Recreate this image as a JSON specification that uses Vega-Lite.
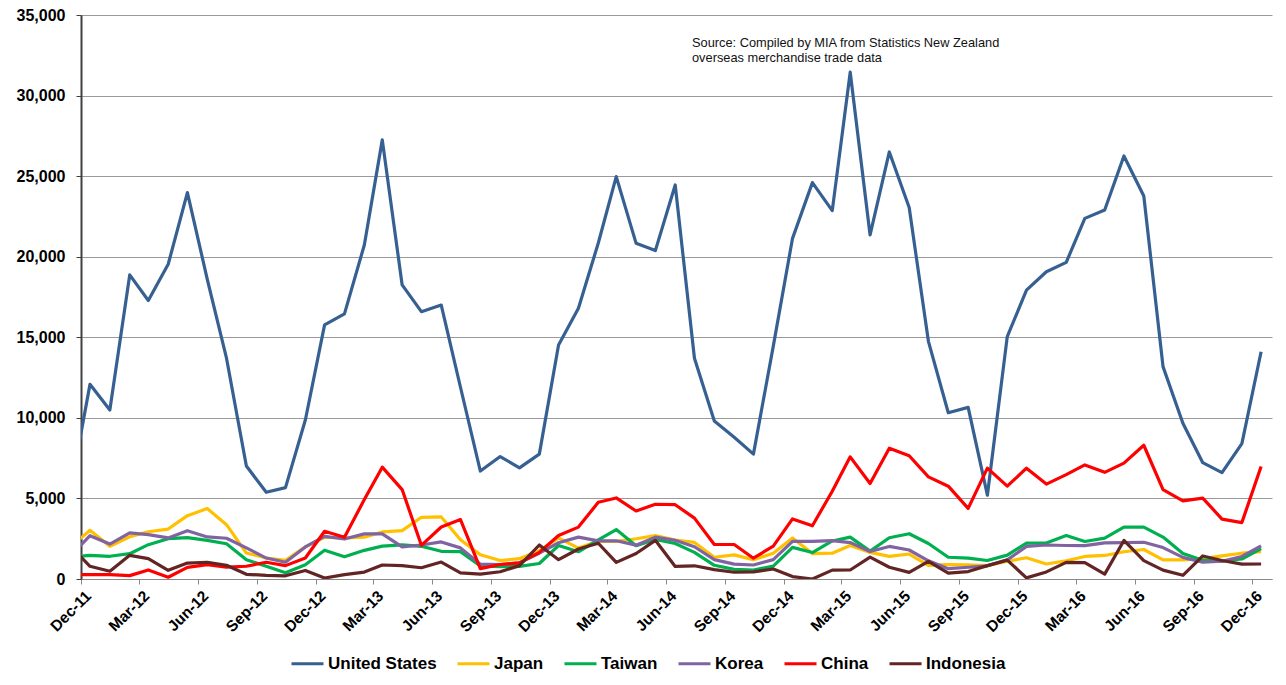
{
"$schema": "https://vega.github.io/schema/vega-lite/v6.json",
"width": 1191, "height": 564,
"autosize": {"type": "none"},
"padding": {"left": 81, "top": 15, "right": 14, "bottom": 106},
"background": "white",
"config": {"view": {"stroke": null}, "font": "Liberation Sans"},
"title": {"text": ["Source: Compiled by MIA from Statistics  New Zealand", "overseas merchandise trade data"], "anchor": "start", "frame": "group", "orient": "top", "offset": 0, "dx": 611, "dy": 67.5, "baseline": "alphabetic", "font": "Liberation Sans", "fontSize": 12.8, "fontWeight": "normal", "color": "#111111", "lineHeight": 14.5},
"datasets": {"trade": [
{"d":"2011-11-15","c":"United States","v":5600},{"d":"2011-12-15","c":"United States","v":12080},{"d":"2012-01-15","c":"United States","v":10490},{"d":"2012-02-15","c":"United States","v":18870},{"d":"2012-03-15","c":"United States","v":17280},{"d":"2012-04-15","c":"United States","v":19530},{"d":"2012-05-15","c":"United States","v":23980},{"d":"2012-06-15","c":"United States","v":18600},{"d":"2012-07-15","c":"United States","v":13700},{"d":"2012-08-15","c":"United States","v":7010},{"d":"2012-09-15","c":"United States","v":5380},{"d":"2012-10-15","c":"United States","v":5670},{"d":"2012-11-15","c":"United States","v":9870},{"d":"2012-12-15","c":"United States","v":15770},{"d":"2013-01-15","c":"United States","v":16450},{"d":"2013-02-15","c":"United States","v":20730},{"d":"2013-03-15","c":"United States","v":27250},{"d":"2013-04-15","c":"United States","v":18250},{"d":"2013-05-15","c":"United States","v":16590},{"d":"2013-06-15","c":"United States","v":17000},{"d":"2013-07-15","c":"United States","v":11900},{"d":"2013-08-15","c":"United States","v":6700},{"d":"2013-09-15","c":"United States","v":7600},{"d":"2013-10-15","c":"United States","v":6900},{"d":"2013-11-15","c":"United States","v":7750},{"d":"2013-12-15","c":"United States","v":14520},{"d":"2014-01-15","c":"United States","v":16800},{"d":"2014-02-15","c":"United States","v":20850},{"d":"2014-03-15","c":"United States","v":24970},{"d":"2014-04-15","c":"United States","v":20830},{"d":"2014-05-15","c":"United States","v":20380},{"d":"2014-06-15","c":"United States","v":24450},{"d":"2014-07-15","c":"United States","v":13700},{"d":"2014-08-15","c":"United States","v":9800},{"d":"2014-09-15","c":"United States","v":8800},{"d":"2014-10-15","c":"United States","v":7750},{"d":"2014-11-15","c":"United States","v":14450},{"d":"2014-12-15","c":"United States","v":21140},{"d":"2015-01-15","c":"United States","v":24600},{"d":"2015-02-15","c":"United States","v":22860},{"d":"2015-03-15","c":"United States","v":31450},{"d":"2015-04-15","c":"United States","v":21350},{"d":"2015-05-15","c":"United States","v":26500},{"d":"2015-06-15","c":"United States","v":23050},{"d":"2015-07-15","c":"United States","v":14750},{"d":"2015-08-15","c":"United States","v":10320},{"d":"2015-09-15","c":"United States","v":10650},{"d":"2015-10-15","c":"United States","v":5200},{"d":"2015-11-15","c":"United States","v":15040},{"d":"2015-12-15","c":"United States","v":17930},{"d":"2016-01-15","c":"United States","v":19070},{"d":"2016-02-15","c":"United States","v":19650},{"d":"2016-03-15","c":"United States","v":22380},{"d":"2016-04-15","c":"United States","v":22900},{"d":"2016-05-15","c":"United States","v":26250},{"d":"2016-06-15","c":"United States","v":23770},{"d":"2016-07-15","c":"United States","v":13180},{"d":"2016-08-15","c":"United States","v":9660},{"d":"2016-09-15","c":"United States","v":7220},{"d":"2016-10-15","c":"United States","v":6600},{"d":"2016-11-15","c":"United States","v":8400},{"d":"2016-12-15","c":"United States","v":14100},
{"d":"2011-11-15","c":"Japan","v":2000},{"d":"2011-12-15","c":"Japan","v":3020},{"d":"2012-01-15","c":"Japan","v":2030},{"d":"2012-02-15","c":"Japan","v":2620},{"d":"2012-03-15","c":"Japan","v":2930},{"d":"2012-04-15","c":"Japan","v":3100},{"d":"2012-05-15","c":"Japan","v":3930},{"d":"2012-06-15","c":"Japan","v":4370},{"d":"2012-07-15","c":"Japan","v":3370},{"d":"2012-08-15","c":"Japan","v":1610},{"d":"2012-09-15","c":"Japan","v":1300},{"d":"2012-10-15","c":"Japan","v":1160},{"d":"2012-11-15","c":"Japan","v":1990},{"d":"2012-12-15","c":"Japan","v":2590},{"d":"2013-01-15","c":"Japan","v":2550},{"d":"2013-02-15","c":"Japan","v":2600},{"d":"2013-03-15","c":"Japan","v":2920},{"d":"2013-04-15","c":"Japan","v":3000},{"d":"2013-05-15","c":"Japan","v":3830},{"d":"2013-06-15","c":"Japan","v":3850},{"d":"2013-07-15","c":"Japan","v":2440},{"d":"2013-08-15","c":"Japan","v":1510},{"d":"2013-09-15","c":"Japan","v":1150},{"d":"2013-10-15","c":"Japan","v":1260},{"d":"2013-11-15","c":"Japan","v":1750},{"d":"2013-12-15","c":"Japan","v":2550},{"d":"2014-01-15","c":"Japan","v":1920},{"d":"2014-02-15","c":"Japan","v":2340},{"d":"2014-03-15","c":"Japan","v":2340},{"d":"2014-04-15","c":"Japan","v":2500},{"d":"2014-05-15","c":"Japan","v":2690},{"d":"2014-06-15","c":"Japan","v":2420},{"d":"2014-07-15","c":"Japan","v":2270},{"d":"2014-08-15","c":"Japan","v":1350},{"d":"2014-09-15","c":"Japan","v":1500},{"d":"2014-10-15","c":"Japan","v":1190},{"d":"2014-11-15","c":"Japan","v":1600},{"d":"2014-12-15","c":"Japan","v":2540},{"d":"2015-01-15","c":"Japan","v":1580},{"d":"2015-02-15","c":"Japan","v":1600},{"d":"2015-03-15","c":"Japan","v":2080},{"d":"2015-04-15","c":"Japan","v":1650},{"d":"2015-05-15","c":"Japan","v":1400},{"d":"2015-06-15","c":"Japan","v":1550},{"d":"2015-07-15","c":"Japan","v":850},{"d":"2015-08-15","c":"Japan","v":900},{"d":"2015-09-15","c":"Japan","v":880},{"d":"2015-10-15","c":"Japan","v":830},{"d":"2015-11-15","c":"Japan","v":1100},{"d":"2015-12-15","c":"Japan","v":1320},{"d":"2016-01-15","c":"Japan","v":930},{"d":"2016-02-15","c":"Japan","v":1130},{"d":"2016-03-15","c":"Japan","v":1400},{"d":"2016-04-15","c":"Japan","v":1460},{"d":"2016-05-15","c":"Japan","v":1690},{"d":"2016-06-15","c":"Japan","v":1830},{"d":"2016-07-15","c":"Japan","v":1190},{"d":"2016-08-15","c":"Japan","v":1190},{"d":"2016-09-15","c":"Japan","v":1260},{"d":"2016-10-15","c":"Japan","v":1440},{"d":"2016-11-15","c":"Japan","v":1600},{"d":"2016-12-15","c":"Japan","v":1690},
{"d":"2011-11-15","c":"Taiwan","v":1350},{"d":"2011-12-15","c":"Taiwan","v":1470},{"d":"2012-01-15","c":"Taiwan","v":1410},{"d":"2012-02-15","c":"Taiwan","v":1570},{"d":"2012-03-15","c":"Taiwan","v":2130},{"d":"2012-04-15","c":"Taiwan","v":2500},{"d":"2012-05-15","c":"Taiwan","v":2570},{"d":"2012-06-15","c":"Taiwan","v":2400},{"d":"2012-07-15","c":"Taiwan","v":2190},{"d":"2012-08-15","c":"Taiwan","v":1200},{"d":"2012-09-15","c":"Taiwan","v":790},{"d":"2012-10-15","c":"Taiwan","v":390},{"d":"2012-11-15","c":"Taiwan","v":880},{"d":"2012-12-15","c":"Taiwan","v":1790},{"d":"2013-01-15","c":"Taiwan","v":1380},{"d":"2013-02-15","c":"Taiwan","v":1780},{"d":"2013-03-15","c":"Taiwan","v":2040},{"d":"2013-04-15","c":"Taiwan","v":2120},{"d":"2013-05-15","c":"Taiwan","v":2030},{"d":"2013-06-15","c":"Taiwan","v":1720},{"d":"2013-07-15","c":"Taiwan","v":1700},{"d":"2013-08-15","c":"Taiwan","v":810},{"d":"2013-09-15","c":"Taiwan","v":770},{"d":"2013-10-15","c":"Taiwan","v":780},{"d":"2013-11-15","c":"Taiwan","v":960},{"d":"2013-12-15","c":"Taiwan","v":2080},{"d":"2014-01-15","c":"Taiwan","v":1690},{"d":"2014-02-15","c":"Taiwan","v":2430},{"d":"2014-03-15","c":"Taiwan","v":3070},{"d":"2014-04-15","c":"Taiwan","v":2070},{"d":"2014-05-15","c":"Taiwan","v":2460},{"d":"2014-06-15","c":"Taiwan","v":2200},{"d":"2014-07-15","c":"Taiwan","v":1650},{"d":"2014-08-15","c":"Taiwan","v":850},{"d":"2014-09-15","c":"Taiwan","v":600},{"d":"2014-10-15","c":"Taiwan","v":550},{"d":"2014-11-15","c":"Taiwan","v":800},{"d":"2014-12-15","c":"Taiwan","v":1960},{"d":"2015-01-15","c":"Taiwan","v":1640},{"d":"2015-02-15","c":"Taiwan","v":2360},{"d":"2015-03-15","c":"Taiwan","v":2600},{"d":"2015-04-15","c":"Taiwan","v":1730},{"d":"2015-05-15","c":"Taiwan","v":2560},{"d":"2015-06-15","c":"Taiwan","v":2810},{"d":"2015-07-15","c":"Taiwan","v":2200},{"d":"2015-08-15","c":"Taiwan","v":1350},{"d":"2015-09-15","c":"Taiwan","v":1300},{"d":"2015-10-15","c":"Taiwan","v":1150},{"d":"2015-11-15","c":"Taiwan","v":1480},{"d":"2015-12-15","c":"Taiwan","v":2230},{"d":"2016-01-15","c":"Taiwan","v":2230},{"d":"2016-02-15","c":"Taiwan","v":2700},{"d":"2016-03-15","c":"Taiwan","v":2330},{"d":"2016-04-15","c":"Taiwan","v":2540},{"d":"2016-05-15","c":"Taiwan","v":3220},{"d":"2016-06-15","c":"Taiwan","v":3220},{"d":"2016-07-15","c":"Taiwan","v":2600},{"d":"2016-08-15","c":"Taiwan","v":1580},{"d":"2016-09-15","c":"Taiwan","v":1170},{"d":"2016-10-15","c":"Taiwan","v":1100},{"d":"2016-11-15","c":"Taiwan","v":1240},{"d":"2016-12-15","c":"Taiwan","v":1890},
{"d":"2011-11-15","c":"Korea","v":1450},{"d":"2011-12-15","c":"Korea","v":2690},{"d":"2012-01-15","c":"Korea","v":2170},{"d":"2012-02-15","c":"Korea","v":2860},{"d":"2012-03-15","c":"Korea","v":2750},{"d":"2012-04-15","c":"Korea","v":2550},{"d":"2012-05-15","c":"Korea","v":3000},{"d":"2012-06-15","c":"Korea","v":2610},{"d":"2012-07-15","c":"Korea","v":2530},{"d":"2012-08-15","c":"Korea","v":1930},{"d":"2012-09-15","c":"Korea","v":1300},{"d":"2012-10-15","c":"Korea","v":1040},{"d":"2012-11-15","c":"Korea","v":1990},{"d":"2012-12-15","c":"Korea","v":2650},{"d":"2013-01-15","c":"Korea","v":2480},{"d":"2013-02-15","c":"Korea","v":2800},{"d":"2013-03-15","c":"Korea","v":2800},{"d":"2013-04-15","c":"Korea","v":1990},{"d":"2013-05-15","c":"Korea","v":2110},{"d":"2013-06-15","c":"Korea","v":2300},{"d":"2013-07-15","c":"Korea","v":1930},{"d":"2013-08-15","c":"Korea","v":920},{"d":"2013-09-15","c":"Korea","v":890},{"d":"2013-10-15","c":"Korea","v":1000},{"d":"2013-11-15","c":"Korea","v":1600},{"d":"2013-12-15","c":"Korea","v":2250},{"d":"2014-01-15","c":"Korea","v":2600},{"d":"2014-02-15","c":"Korea","v":2370},{"d":"2014-03-15","c":"Korea","v":2370},{"d":"2014-04-15","c":"Korea","v":2100},{"d":"2014-05-15","c":"Korea","v":2600},{"d":"2014-06-15","c":"Korea","v":2400},{"d":"2014-07-15","c":"Korea","v":2000},{"d":"2014-08-15","c":"Korea","v":1200},{"d":"2014-09-15","c":"Korea","v":920},{"d":"2014-10-15","c":"Korea","v":870},{"d":"2014-11-15","c":"Korea","v":1200},{"d":"2014-12-15","c":"Korea","v":2330},{"d":"2015-01-15","c":"Korea","v":2330},{"d":"2015-02-15","c":"Korea","v":2380},{"d":"2015-03-15","c":"Korea","v":2260},{"d":"2015-04-15","c":"Korea","v":1710},{"d":"2015-05-15","c":"Korea","v":2020},{"d":"2015-06-15","c":"Korea","v":1800},{"d":"2015-07-15","c":"Korea","v":1130},{"d":"2015-08-15","c":"Korea","v":640},{"d":"2015-09-15","c":"Korea","v":730},{"d":"2015-10-15","c":"Korea","v":820},{"d":"2015-11-15","c":"Korea","v":1190},{"d":"2015-12-15","c":"Korea","v":2020},{"d":"2016-01-15","c":"Korea","v":2110},{"d":"2016-02-15","c":"Korea","v":2080},{"d":"2016-03-15","c":"Korea","v":2070},{"d":"2016-04-15","c":"Korea","v":2240},{"d":"2016-05-15","c":"Korea","v":2260},{"d":"2016-06-15","c":"Korea","v":2280},{"d":"2016-07-15","c":"Korea","v":1950},{"d":"2016-08-15","c":"Korea","v":1340},{"d":"2016-09-15","c":"Korea","v":1040},{"d":"2016-10-15","c":"Korea","v":1100},{"d":"2016-11-15","c":"Korea","v":1400},{"d":"2016-12-15","c":"Korea","v":2060},
{"d":"2011-11-15","c":"China","v":270},{"d":"2011-12-15","c":"China","v":270},{"d":"2012-01-15","c":"China","v":270},{"d":"2012-02-15","c":"China","v":210},{"d":"2012-03-15","c":"China","v":560},{"d":"2012-04-15","c":"China","v":110},{"d":"2012-05-15","c":"China","v":720},{"d":"2012-06-15","c":"China","v":890},{"d":"2012-07-15","c":"China","v":740},{"d":"2012-08-15","c":"China","v":790},{"d":"2012-09-15","c":"China","v":1040},{"d":"2012-10-15","c":"China","v":830},{"d":"2012-11-15","c":"China","v":1300},{"d":"2012-12-15","c":"China","v":2960},{"d":"2013-01-15","c":"China","v":2590},{"d":"2013-02-15","c":"China","v":4930},{"d":"2013-03-15","c":"China","v":6940},{"d":"2013-04-15","c":"China","v":5550},{"d":"2013-05-15","c":"China","v":2090},{"d":"2013-06-15","c":"China","v":3230},{"d":"2013-07-15","c":"China","v":3690},{"d":"2013-08-15","c":"China","v":640},{"d":"2013-09-15","c":"China","v":900},{"d":"2013-10-15","c":"China","v":1000},{"d":"2013-11-15","c":"China","v":1650},{"d":"2013-12-15","c":"China","v":2700},{"d":"2014-01-15","c":"China","v":3220},{"d":"2014-02-15","c":"China","v":4760},{"d":"2014-03-15","c":"China","v":5030},{"d":"2014-04-15","c":"China","v":4220},{"d":"2014-05-15","c":"China","v":4640},{"d":"2014-06-15","c":"China","v":4610},{"d":"2014-07-15","c":"China","v":3780},{"d":"2014-08-15","c":"China","v":2140},{"d":"2014-09-15","c":"China","v":2140},{"d":"2014-10-15","c":"China","v":1290},{"d":"2014-11-15","c":"China","v":2040},{"d":"2014-12-15","c":"China","v":3730},{"d":"2015-01-15","c":"China","v":3300},{"d":"2015-02-15","c":"China","v":5450},{"d":"2015-03-15","c":"China","v":7580},{"d":"2015-04-15","c":"China","v":5930},{"d":"2015-05-15","c":"China","v":8120},{"d":"2015-06-15","c":"China","v":7650},{"d":"2015-07-15","c":"China","v":6340},{"d":"2015-08-15","c":"China","v":5760},{"d":"2015-09-15","c":"China","v":4380},{"d":"2015-10-15","c":"China","v":6880},{"d":"2015-11-15","c":"China","v":5760},{"d":"2015-12-15","c":"China","v":6880},{"d":"2016-01-15","c":"China","v":5890},{"d":"2016-02-15","c":"China","v":6480},{"d":"2016-03-15","c":"China","v":7080},{"d":"2016-04-15","c":"China","v":6620},{"d":"2016-05-15","c":"China","v":7190},{"d":"2016-06-15","c":"China","v":8300},{"d":"2016-07-15","c":"China","v":5540},{"d":"2016-08-15","c":"China","v":4850},{"d":"2016-09-15","c":"China","v":5020},{"d":"2016-10-15","c":"China","v":3720},{"d":"2016-11-15","c":"China","v":3500},{"d":"2016-12-15","c":"China","v":6980},
{"d":"2011-11-15","c":"Indonesia","v":2030},{"d":"2011-12-15","c":"Indonesia","v":790},{"d":"2012-01-15","c":"Indonesia","v":480},{"d":"2012-02-15","c":"Indonesia","v":1470},{"d":"2012-03-15","c":"Indonesia","v":1260},{"d":"2012-04-15","c":"Indonesia","v":540},{"d":"2012-05-15","c":"Indonesia","v":990},{"d":"2012-06-15","c":"Indonesia","v":1040},{"d":"2012-07-15","c":"Indonesia","v":850},{"d":"2012-08-15","c":"Indonesia","v":290},{"d":"2012-09-15","c":"Indonesia","v":230},{"d":"2012-10-15","c":"Indonesia","v":200},{"d":"2012-11-15","c":"Indonesia","v":530},{"d":"2012-12-15","c":"Indonesia","v":60},{"d":"2013-01-15","c":"Indonesia","v":270},{"d":"2013-02-15","c":"Indonesia","v":430},{"d":"2013-03-15","c":"Indonesia","v":870},{"d":"2013-04-15","c":"Indonesia","v":830},{"d":"2013-05-15","c":"Indonesia","v":700},{"d":"2013-06-15","c":"Indonesia","v":1050},{"d":"2013-07-15","c":"Indonesia","v":380},{"d":"2013-08-15","c":"Indonesia","v":300},{"d":"2013-09-15","c":"Indonesia","v":450},{"d":"2013-10-15","c":"Indonesia","v":830},{"d":"2013-11-15","c":"Indonesia","v":2110},{"d":"2013-12-15","c":"Indonesia","v":1200},{"d":"2014-01-15","c":"Indonesia","v":1860},{"d":"2014-02-15","c":"Indonesia","v":2220},{"d":"2014-03-15","c":"Indonesia","v":1030},{"d":"2014-04-15","c":"Indonesia","v":1580},{"d":"2014-05-15","c":"Indonesia","v":2400},{"d":"2014-06-15","c":"Indonesia","v":780},{"d":"2014-07-15","c":"Indonesia","v":820},{"d":"2014-08-15","c":"Indonesia","v":580},{"d":"2014-09-15","c":"Indonesia","v":420},{"d":"2014-10-15","c":"Indonesia","v":440},{"d":"2014-11-15","c":"Indonesia","v":620},{"d":"2014-12-15","c":"Indonesia","v":150},{"d":"2015-01-15","c":"Indonesia","v":0},{"d":"2015-02-15","c":"Indonesia","v":550},{"d":"2015-03-15","c":"Indonesia","v":560},{"d":"2015-04-15","c":"Indonesia","v":1360},{"d":"2015-05-15","c":"Indonesia","v":730},{"d":"2015-06-15","c":"Indonesia","v":410},{"d":"2015-07-15","c":"Indonesia","v":1100},{"d":"2015-08-15","c":"Indonesia","v":360},{"d":"2015-09-15","c":"Indonesia","v":460},{"d":"2015-10-15","c":"Indonesia","v":830},{"d":"2015-11-15","c":"Indonesia","v":1170},{"d":"2015-12-15","c":"Indonesia","v":70},{"d":"2016-01-15","c":"Indonesia","v":440},{"d":"2016-02-15","c":"Indonesia","v":1030},{"d":"2016-03-15","c":"Indonesia","v":1020},{"d":"2016-04-15","c":"Indonesia","v":300},{"d":"2016-05-15","c":"Indonesia","v":2390},{"d":"2016-06-15","c":"Indonesia","v":1140},{"d":"2016-07-15","c":"Indonesia","v":550},{"d":"2016-08-15","c":"Indonesia","v":230},{"d":"2016-09-15","c":"Indonesia","v":1430},{"d":"2016-10-15","c":"Indonesia","v":1150},{"d":"2016-11-15","c":"Indonesia","v":920},{"d":"2016-12-15","c":"Indonesia","v":930}
]},
"data": {"name": "trade"},
"mark": {"type": "line", "strokeWidth": 3.2, "clip": true, "strokeJoin": "round"},
"encoding": {
"x": {"field": "d", "type": "temporal",
 "scale": {"type": "utc", "nice": false, "domain": [{"year": 2011, "month": 12, "date": 1, "utc": true}, {"year": 2017, "month": 1, "date": 1, "utc": true}]},
 "axis": {"title": null, "grid": false, "format": "%b-%y",
  "values": [{"year":2011,"month":12,"date":1,"utc":true},{"year":2012,"month":3,"date":1,"utc":true},{"year":2012,"month":6,"date":1,"utc":true},{"year":2012,"month":9,"date":1,"utc":true},{"year":2012,"month":12,"date":1,"utc":true},{"year":2013,"month":3,"date":1,"utc":true},{"year":2013,"month":6,"date":1,"utc":true},{"year":2013,"month":9,"date":1,"utc":true},{"year":2013,"month":12,"date":1,"utc":true},{"year":2014,"month":3,"date":1,"utc":true},{"year":2014,"month":6,"date":1,"utc":true},{"year":2014,"month":9,"date":1,"utc":true},{"year":2014,"month":12,"date":1,"utc":true},{"year":2015,"month":3,"date":1,"utc":true},{"year":2015,"month":6,"date":1,"utc":true},{"year":2015,"month":9,"date":1,"utc":true},{"year":2015,"month":12,"date":1,"utc":true},{"year":2016,"month":3,"date":1,"utc":true},{"year":2016,"month":6,"date":1,"utc":true},{"year":2016,"month":9,"date":1,"utc":true},{"year":2016,"month":12,"date":1,"utc":true}],
  "labelAngle": -45, "labelAlign": "right", "labelBaseline": "middle", "labelPadding": 9, "labelOffset": 7,
  "labelFont": "Liberation Sans", "labelFontSize": 15.5, "labelFontWeight": "bold", "labelColor": "#000000",
  "domainColor": "#888888", "domainWidth": 1, "tickColor": "#888888", "tickSize": 5, "labelOverlap": false, "labelFlush": false, "labelBound": false}},
"y": {"field": "v", "type": "quantitative",
 "scale": {"domain": [0, 35000], "nice": false, "zero": true},
 "axis": {"title": null, "values": [0,5000,10000,15000,20000,25000,30000,35000], "format": ",.0f", "grid": true, "gridColor": "#9a9a9a", "gridWidth": 1,
  "labelFont": "Liberation Sans", "labelFontSize": 16, "labelFontWeight": "bold", "labelColor": "#000000", "labelPadding": 11,
  "domainColor": "#404040", "domainWidth": 2, "tickColor": "#404040", "tickSize": 5, "labelOverlap": false}},
"color": {"field": "c", "type": "nominal",
 "scale": {"domain": ["United States", "Japan", "Taiwan", "Korea", "China", "Indonesia"], "range": ["#376092", "#FFC000", "#00B050", "#8064A2", "#FF0000", "#632523"]},
 "legend": {"orient": "none", "legendX": 209, "legendY": 631, "direction": "horizontal", "title": null, "symbolType": "stroke", "symbolSize": 1024, "symbolStrokeWidth": 3, "labelFont": "Liberation Sans", "labelFontSize": 17, "labelFontWeight": "bold", "labelColor": "#000000", "labelOffset": 3, "columnPadding": 14, "padding": 0, "labelLimit": 300}}
}
}
